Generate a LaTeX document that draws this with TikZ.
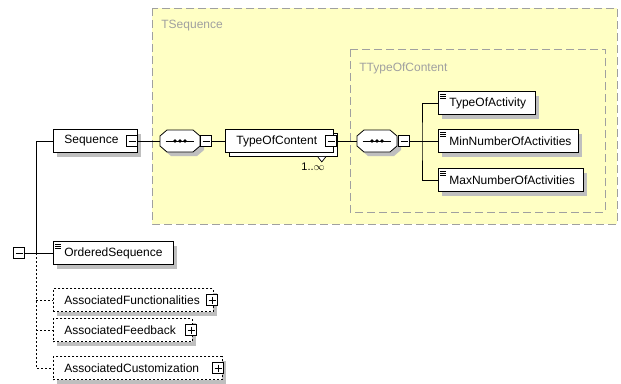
\documentclass[tikz,border=0pt]{standalone}
\usepackage{fontspec}
\setmainfont{Liberation Sans}
\usetikzlibrary{shadows}
\definecolor{seqyellow}{RGB}{255,255,196}
\definecolor{groupgray}{RGB}{160,160,160}
\begin{document}
\begin{tikzpicture}[x=1pt,y=-1pt,line width=0.8pt,font=\fontsize{12}{14}\selectfont,
	elem_node/.style={draw,fill=white,anchor=west,minimum height=23pt,inner xsep=11pt,inner ysep=0pt,align=left,general shadow={fill=black!25,shadow xshift=4pt,shadow yshift=-4pt}},
	icon_node/.style={elem_node,path picture={\foreach \d in {2.5,4.5,6.5} \draw[line width=0.7pt] ([xshift=2pt,yshift=-\d pt]path picture bounding box.north west) -- ++(6pt,0pt);}},
	opt_node/.style={elem_node,dash pattern=on 2pt off 2pt},
	comp_node/.style={minimum width=40pt,minimum height=22pt,inner sep=0pt},
	minus_node/.style={draw,fill=white,minimum size=11pt,inner sep=0pt,line width=0.7pt,path picture={\draw ([xshift=2pt]path picture bounding box.west) -- ([xshift=-2pt]path picture bounding box.east);}},
	plus_node/.style={minus_node,path picture={\draw ([xshift=2pt]path picture bounding box.west) -- ([xshift=-2pt]path picture bounding box.east); \draw ([yshift=-2pt]path picture bounding box.north) -- ([yshift=2pt]path picture bounding box.south);}},
	group_label/.style={anchor=west,text=groupgray,inner sep=0pt}]
	
	\useasboundingbox (0,0) rectangle (621,383);
	
	% complex types
	\fill[seqyellow] (152,8) rectangle (617,224);
	\draw[groupgray,dash pattern=on 8pt off 4pt] (152,8) rectangle (617,224);
	\draw[groupgray,dash pattern=on 8pt off 4pt] (350,49) rectangle (605,212);
	\node[group_label] (tseq) at (161,26) {TSequence};
	\node[group_label] (ttoc) at (359,68) {TTypeOfContent};
	
	% root
	\node[minus_node] (rootm) at (19,253) {};
	\coordinate (j1) at (36,253);
	\node[elem_node,text width=62pt] (seq) at (53,141) {Sequence};
	\node[icon_node,text width=98pt] (ordseq) at (53,253) {OrderedSequence};
	\node[opt_node,text width=138pt] (func) at (53,300) {AssociatedFunctionalities};
	\node[opt_node,text width=117pt] (feed) at (53,330) {AssociatedFeedback};
	\node[opt_node,text width=147pt] (cust) at (53,368) {AssociatedCustomization};
	\node[minus_node] (seqm) at (132,141) {};
	\node[plus_node] (funcp) at (212,300) {};
	\node[plus_node] (feedp) at (191,330) {};
	\node[plus_node] (custp) at (218,368) {};
	
	\draw (rootm) -- (ordseq);
	\draw (seq.west) -| (j1);
	\draw[dash pattern=on 2pt off 2pt] (j1) |- (cust.west);
	\draw[dash pattern=on 2pt off 2pt] (func.west -| j1) -- (func.west);
	\draw[dash pattern=on 2pt off 2pt] (feed.west -| j1) -- (feed.west);
	
	% sequence compositors
	\node[comp_node] (c1) at (180,141) {};
	\node[comp_node] (c2) at (377,141) {};
	\foreach \c in {c1,c2} {
		\fill[black!25] (\c.center) ++(-9,-7) -- ++(26,0) -- ++(7,6) -- ++(0,10) -- ++(-7,6) -- ++(-26,0) -- ++(-7,-6) -- ++(0,-10) -- cycle;
		\draw[fill=white] (\c.center) ++(-13,-11) -- ++(26,0) -- ++(7,6) -- ++(0,10) -- ++(-7,6) -- ++(-26,0) -- ++(-7,-6) -- ++(0,-10) -- cycle;
		\draw ([xshift=6pt]\c.west) -- ([xshift=-6pt]\c.east);
		\foreach \dx in {-5,0,5} \fill ([xshift=\dx pt]\c.center) circle (1.8pt);
	}
	\node[minus_node] (c1m) at (206,141) {};
	\node[minus_node] (c2m) at (404,141) {};
	
	\node[elem_node,text width=86pt,double copy shadow={shadow xshift=4pt,shadow yshift=-4pt,opacity=0},copy shadow={shadow xshift=4pt,shadow yshift=-4pt}] (toc) at (225,141) {TypeOfContent};
	\node[minus_node] (tocm) at (331,141) {};
	\draw[line width=0.7pt,fill=white] ([xshift=-16pt,yshift=-4pt]toc.south east) -- ++(4,5) -- ++(4,-5);
	\node[anchor=north,inner sep=0pt,font=\fontsize{11}{13}\selectfont] (tocmult) at (313,163) {1..$\infty$};
	
	\coordinate (j2) at (422,141);
	\node[icon_node,text width=75pt] (act) at (438,103) {TypeOfActivity};
	\node[icon_node,text width=118pt] (minact) at (438,141) {MinNumberOfActivities};
	\node[icon_node,text width=123pt] (maxact) at (438,180) {MaxNumberOfActivities};
	
	\draw (seqm) -- (c1);
	\draw (c1m) -- (toc);
	\draw (tocm) -- (c2);
	\draw (c2m) -- (minact);
	\draw (act.west) -| (j2) |- (maxact.west);
\end{tikzpicture}
\end{document}
